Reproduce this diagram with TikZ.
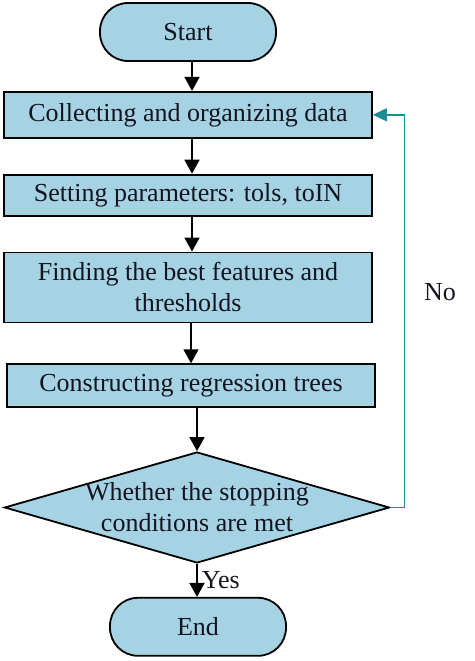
\documentclass[tikz,border=0pt]{standalone}
\usepackage{fontspec}
\setmainfont{Liberation Serif}
\usepackage{xcolor}
\usetikzlibrary{arrows.meta,positioning,shapes.geometric}

\definecolor{boxblue}{HTML}{A6D3E3}
\definecolor{loopteal}{HTML}{1A8C96}
\definecolor{inkdark}{HTML}{141420}

\begin{document}
\begin{tikzpicture}[>=Latex, font=\fontsize{26}{31}\selectfont, text=inkdark]
\tikzstyle{term}=[draw, line width=1.8pt, fill=boxblue, rounded corners=28pt, minimum width=176pt, minimum height=58pt]
\tikzstyle{proc}=[draw, line width=1.8pt, fill=boxblue, minimum width=368pt, inner sep=3pt, align=center]
\tikzstyle{dec}=[draw, line width=1.8pt, fill=boxblue, shape=diamond, aspect=3.47, inner sep=-3pt, minimum width=385pt, minimum height=111pt, align=center]
\tikzstyle{arr}=[line width=1.8pt, -{Triangle[width=15pt,length=14pt]}]
\tikzstyle{back}=[line width=1.5pt, draw=loopteal, -{Triangle[width=13pt,length=14pt]}]
\useasboundingbox (0,0) rectangle (474pt,-661pt);

\node[term] (start) at (188pt,-32pt) {Start};
\node[proc, minimum height=46pt, below=29pt of start] (collect) {Collecting and organizing data};
\node[proc, minimum height=41pt, below=35pt of collect] (param) {Setting parameters: tols, toIN};
\node[proc, minimum height=70pt, below=35pt of param] (find) {Finding the best features and\\thresholds};
\node[proc, minimum height=43pt, below=40pt of find, xshift=3pt] (tree) {Constructing regression trees};
\node[dec, below=43pt of tree, xshift=6pt] (stop) {Whether the stopping\\conditions are met};
\node[term, below=33pt of stop, xshift=1pt] (end) {End};

\draw[arr] (start.south -| 192pt,0) -- (collect.north -| 192pt,0);
\draw[arr] (collect.south -| 192pt,0) -- (param.north -| 192pt,0);
\draw[arr] (param.south -| 192pt,0) -- (find.north -| 192pt,0);
\draw[arr] (find.south -| tree.north) -- (tree.north);
\draw[arr] (tree.south -| stop.north) -- (stop.north);
\draw[arr] (stop.south) -- node[right, inner sep=4pt] (yes) {Yes} (stop.south |- end.north);
\draw[back] (stop.east) -- ++(14pt,0) |- (collect.east);
\node (no) at (440pt,-292pt) {No};
\end{tikzpicture}
\end{document}
